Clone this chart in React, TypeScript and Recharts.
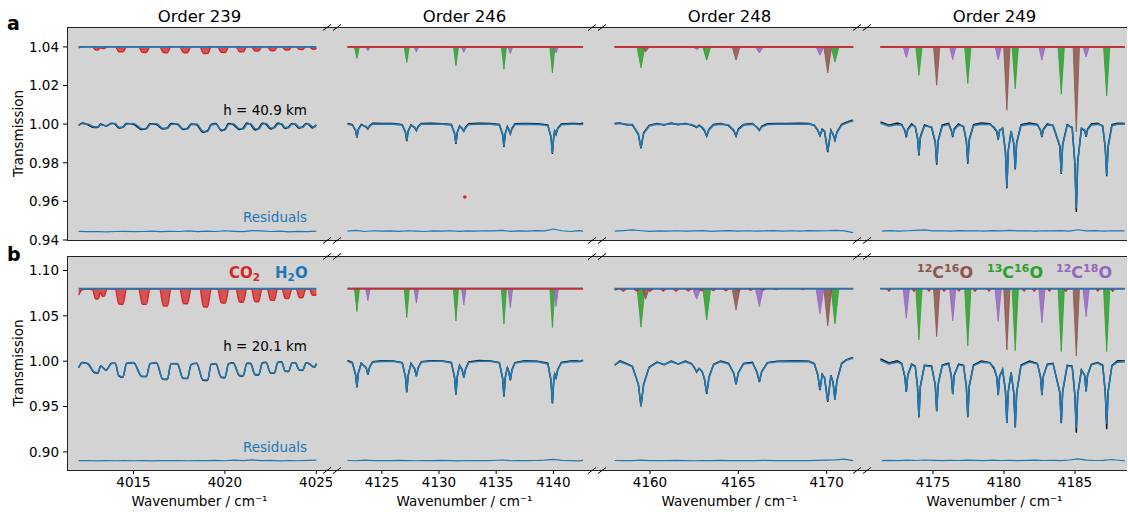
import React from 'react';
import { ComposedChart, Line, Area, XAxis, YAxis, ReferenceDot } from 'recharts';

const BLUE = '#1f77b4';
const RED = '#d62728';
const GREEN = '#2ca02c';
const PURPLE = '#9467bd';
const BROWN = '#8c564b';
const GRAY = '#d3d3d3';
const FONT = '"DejaVu Sans", sans-serif';

// ---------- axes ----------
const titles = ['Order 239', 'Order 246', 'Order 248', 'Order 249'];
const xDomains: [number, number][] = [[4011.36, 4025.86], [4120.64, 4143.82], [4157.0, 4172.0], [4170.0, 4188.66]];
const xTicks = [[4015, 4020, 4025], [4125, 4130, 4135, 4140], [4160, 4165, 4170], [4175, 4180, 4185]];
const aYTicks = [0.94, 0.96, 0.98, 1.0, 1.02, 1.04];
const bYTicks = [0.9, 0.95, 1.0, 1.05, 1.1];
const heights = { a: '40.9', b: '20.1' };

// ---------- Order 239 ----------
const p1Wn = [4012.0, 4012.2, 4012.5, 4012.85, 4013.05, 4013.2, 4013.5, 4013.8, 4014.0, 4014.2, 4014.42, 4014.62, 4015.0, 4015.45, 4015.7, 4015.9, 4016.25, 4016.6, 4016.85, 4017.05, 4017.4, 4017.7, 4017.95, 4018.15, 4018.45, 4018.8, 4019.05, 4019.25, 4019.5, 4019.8, 4020.0, 4020.2, 4020.45, 4020.8, 4021.0, 4021.2, 4021.4, 4021.65, 4021.85, 4022.05, 4022.25, 4022.5, 4022.7, 4022.9, 4023.1, 4023.3, 4023.48, 4023.68, 4023.85, 4024.07, 4024.25, 4024.45, 4024.6, 4024.8, 4024.92, 4025.0];
const a1Model = [0.9995, 1.0002, 1.0, 0.9986, 0.9985, 0.9997, 0.9992, 1.0002, 1.0003, 0.9984, 0.9983, 1.0, 1.0003, 0.9976, 0.9975, 0.9998, 1.0002, 0.9979, 0.9978, 0.9998, 1.0002, 0.9976, 0.9975, 0.9997, 1.0, 0.9963, 0.9962, 0.9995, 1.0, 0.9971, 0.997, 0.9998, 1.0002, 0.9976, 0.9975, 1.0, 1.0002, 0.9976, 0.9975, 1.0, 1.0003, 0.998, 0.998, 1.0, 1.0002, 0.9982, 0.9982, 1.0, 1.0002, 0.9983, 0.9983, 1.0, 1.0, 0.9986, 0.9986, 0.9995];
const a1Obs = [0.9993, 1.0006, 0.9996, 0.9982, 0.9984, 1.0001, 0.999, 1.0005, 0.9999, 0.998, 0.9985, 1.0004, 0.9999, 0.9972, 0.9978, 1.0002, 0.9998, 0.9975, 0.9981, 1.0003, 0.9999, 0.9972, 0.9978, 1.0001, 0.9996, 0.9958, 0.9966, 0.9999, 1.0004, 0.9966, 0.9974, 1.0003, 0.9997, 0.9972, 0.998, 1.0006, 0.9998, 0.997, 0.9979, 1.0005, 0.9999, 0.9975, 0.9984, 1.0006, 0.9998, 0.9977, 0.9986, 1.0004, 0.9997, 0.9978, 0.9987, 1.0004, 0.9996, 0.998, 0.999, 0.9997];
const b1Model = [0.9926, 0.9982, 0.9975, 0.988, 0.9872, 0.9945, 0.9905, 0.9975, 0.998, 0.984, 0.9826, 0.9975, 0.9985, 0.9835, 0.9832, 0.997, 0.9985, 0.9805, 0.9802, 0.997, 0.9975, 0.9815, 0.9812, 0.996, 0.998, 0.9795, 0.9792, 0.9965, 0.9975, 0.9825, 0.9822, 0.997, 0.998, 0.9845, 0.9842, 0.9975, 0.9972, 0.9855, 0.9852, 0.998, 0.9985, 0.9872, 0.987, 0.9985, 0.999, 0.9892, 0.989, 0.998, 0.9985, 0.9905, 0.9903, 0.998, 0.9975, 0.9945, 0.994, 0.997];
const b1Obs = [0.993, 0.9985, 0.997, 0.9875, 0.9868, 0.9948, 0.99, 0.9978, 0.9976, 0.9835, 0.9822, 0.9978, 0.9982, 0.983, 0.983, 0.9973, 0.9981, 0.98, 0.9798, 0.9973, 0.9971, 0.981, 0.9808, 0.9963, 0.9976, 0.979, 0.9786, 0.9968, 0.9971, 0.982, 0.9818, 0.9973, 0.9984, 0.984, 0.9836, 0.9979, 0.9978, 0.985, 0.9848, 0.9983, 0.9989, 0.9868, 0.9866, 0.9988, 0.9993, 0.9888, 0.9886, 0.9984, 0.9982, 0.9901, 0.9898, 0.9984, 0.9972, 0.9941, 0.9936, 0.9974];
const p1Co2Wn = [4012.0, 4012.2, 4012.45, 4012.75, 4012.92, 4013.06, 4013.2, 4013.3, 4013.4, 4013.55, 4014.0, 4014.2, 4014.42, 4014.62, 4015.28, 4015.48, 4015.7, 4015.9, 4016.43, 4016.63, 4016.85, 4017.05, 4017.53, 4017.73, 4017.95, 4018.15, 4018.63, 4018.83, 4019.05, 4019.25, 4019.6, 4019.8, 4020.02, 4020.22, 4020.6, 4020.8, 4021.0, 4021.2, 4021.45, 4021.64, 4021.84, 4022.03, 4022.32, 4022.5, 4022.7, 4022.88, 4023.12, 4023.3, 4023.48, 4023.66, 4023.9, 4024.07, 4024.25, 4024.42, 4024.62, 4024.78, 4024.94, 4025.0];
const a1Co2 = [1.0395, 1.04, 1.04, 1.04, 1.0385, 1.0384, 1.0395, 1.0392, 1.0392, 1.04, 1.04, 1.0375, 1.0374, 1.04, 1.04, 1.0372, 1.0371, 1.04, 1.04, 1.0371, 1.037, 1.04, 1.04, 1.0371, 1.037, 1.04, 1.04, 1.0366, 1.0365, 1.04, 1.04, 1.0372, 1.0371, 1.04, 1.04, 1.0375, 1.0374, 1.04, 1.04, 1.0379, 1.0378, 1.04, 1.04, 1.0381, 1.038, 1.04, 1.04, 1.0384, 1.0383, 1.04, 1.04, 1.0387, 1.0386, 1.04, 1.04, 1.0389, 1.0388, 1.0395];
const b1Co2 = [1.073, 1.079, 1.0795, 1.079, 1.0688, 1.0685, 1.076, 1.0715, 1.0718, 1.0795, 1.0795, 1.063, 1.0626, 1.0795, 1.0795, 1.0628, 1.0626, 1.0795, 1.0795, 1.061, 1.0607, 1.0795, 1.0795, 1.0636, 1.0633, 1.0795, 1.0795, 1.06, 1.0596, 1.0795, 1.0795, 1.0643, 1.064, 1.0795, 1.0795, 1.0653, 1.065, 1.0795, 1.0795, 1.0658, 1.0655, 1.0795, 1.0795, 1.0673, 1.067, 1.0795, 1.0795, 1.0693, 1.069, 1.0795, 1.0795, 1.0703, 1.07, 1.0795, 1.0795, 1.073, 1.0726, 1.074];
const p1ResWn = [4012.0, 4012.5, 4013.0, 4013.5, 4014.0, 4014.5, 4015.0, 4015.5, 4016.0, 4016.5, 4017.0, 4017.5, 4018.0, 4018.5, 4019.0, 4019.5, 4020.0, 4020.5, 4021.0, 4021.5, 4022.0, 4022.5, 4023.0, 4023.5, 4024.0, 4024.5, 4025.0];
const a1Res = [0.9445, 0.9443, 0.9444, 0.9442, 0.9444, 0.9445, 0.9443, 0.9444, 0.9446, 0.9443, 0.9445, 0.9444, 0.9447, 0.9443, 0.9446, 0.9444, 0.9448, 0.9445, 0.9443, 0.9449, 0.9447, 0.9444, 0.9446, 0.9442, 0.9445, 0.9443, 0.9446];
const b1Res = [0.8903, 0.8905, 0.8901, 0.8903, 0.8902, 0.8904, 0.8902, 0.8903, 0.8901, 0.8904, 0.8903, 0.8905, 0.8902, 0.8904, 0.8903, 0.8906, 0.8902, 0.8908, 0.8904, 0.8911, 0.8903, 0.8907, 0.8901, 0.8905, 0.8902, 0.8906, 0.8908];

// ---------- Order 246 ----------
const p2Wn = [4122.0, 4122.42, 4122.7, 4122.82, 4122.94, 4123.2, 4123.63, 4123.78, 4123.93, 4124.2, 4125.0, 4126.0, 4126.78, 4127.06, 4127.18, 4127.3, 4127.55, 4127.87, 4128.02, 4128.17, 4128.45, 4129.3, 4130.3, 4131.08, 4131.36, 4131.48, 4131.6, 4131.8, 4132.02, 4132.17, 4132.32, 4132.6, 4133.5, 4134.5, 4135.28, 4135.56, 4135.68, 4135.8, 4135.98, 4136.1, 4136.24, 4136.38, 4136.65, 4137.5, 4138.6, 4139.52, 4139.8, 4139.92, 4140.04, 4140.12, 4140.24, 4140.38, 4140.7, 4141.5, 4142.0, 4142.3, 4142.6];
const a2Model = [1.0, 0.9995, 0.997, 0.9934, 0.997, 0.9995, 0.9988, 0.9977, 0.9988, 1.0, 1.0, 1.0, 0.9995, 0.9962, 0.9917, 0.9962, 0.9993, 0.9985, 0.9969, 0.9985, 1.0, 1.0, 1.0, 0.9995, 0.9955, 0.9903, 0.9955, 0.9988, 0.998, 0.9966, 0.998, 0.9998, 1.0, 1.0, 0.9995, 0.995, 0.9887, 0.995, 0.9985, 0.9975, 0.9952, 0.9975, 0.9998, 1.0, 0.9998, 0.9993, 0.9935, 0.9851, 0.9935, 0.9965, 0.995, 0.9975, 0.9997, 1.0, 1.0, 0.9998, 1.0];
const a2Obs = [1.0004, 0.9998, 0.9966, 0.993, 0.9974, 0.9999, 0.9985, 0.9975, 0.9992, 1.0005, 1.0003, 1.0004, 0.9998, 0.9958, 0.9912, 0.9965, 0.9996, 0.9982, 0.9966, 0.9988, 1.0004, 1.0005, 1.0002, 0.9999, 0.9951, 0.9898, 0.9959, 0.9991, 0.9977, 0.9963, 0.9984, 1.0002, 1.0005, 1.0003, 0.9998, 0.9946, 0.9882, 0.9954, 0.9988, 0.9972, 0.9949, 0.9978, 1.0002, 1.0004, 1.0002, 0.9996, 0.993, 0.9845, 0.994, 0.9968, 0.9947, 0.9978, 1.0001, 1.0004, 1.0003, 1.0001, 1.0006];
const b2Model = [1.0, 0.998, 0.986, 0.972, 0.986, 0.9975, 0.993, 0.9856, 0.993, 0.999, 0.9998, 1.0, 0.998, 0.984, 0.9664, 0.984, 0.997, 0.992, 0.9837, 0.992, 0.999, 1.0, 1.0, 0.998, 0.983, 0.9639, 0.983, 0.995, 0.991, 0.9823, 0.991, 0.9985, 1.0, 1.0, 0.998, 0.982, 0.9617, 0.982, 0.993, 0.989, 0.9793, 0.99, 0.998, 0.9998, 0.9995, 0.997, 0.979, 0.9543, 0.979, 0.986, 0.9823, 0.99, 0.998, 0.9995, 0.9998, 0.9995, 1.0005];
const b2Obs = [1.0008, 0.9985, 0.985, 0.971, 0.987, 0.998, 0.9925, 0.9852, 0.9935, 0.9995, 1.0005, 1.0002, 0.9985, 0.983, 0.9655, 0.9845, 0.9978, 0.9915, 0.9832, 0.9925, 0.9995, 1.0006, 1.0003, 0.9988, 0.982, 0.963, 0.9835, 0.9955, 0.9905, 0.9818, 0.9915, 0.9992, 1.0007, 1.0004, 0.9985, 0.981, 0.9608, 0.9825, 0.9935, 0.9885, 0.9788, 0.9905, 0.9985, 1.0005, 1.0001, 0.9978, 0.978, 0.9535, 0.9795, 0.9865, 0.9818, 0.9905, 0.9988, 1.0002, 1.0004, 0.9998, 1.0012];
const p2GreenWn = [4122.0, 4122.6, 4122.82, 4123.04, 4126.96, 4127.18, 4127.4, 4131.26, 4131.48, 4131.7, 4135.46, 4135.68, 4135.9, 4139.7, 4139.92, 4140.14, 4142.6];
const a2Green = [1.04, 1.04, 1.034, 1.04, 1.04, 1.0319, 1.04, 1.04, 1.0302, 1.04, 1.04, 1.0284, 1.04, 1.04, 1.0265, 1.04, 1.04];
const b2Green = [1.08, 1.08, 1.0547, 1.08, 1.08, 1.0481, 1.08, 1.08, 1.0444, 1.08, 1.08, 1.0411, 1.08, 1.08, 1.0371, 1.08, 1.08];
const p2PurpleWn = [4122.0, 4123.58, 4123.78, 4123.98, 4127.82, 4128.02, 4128.22, 4131.97, 4132.17, 4132.37, 4136.04, 4136.24, 4136.44, 4140.04, 4140.24, 4140.44, 4142.6];
const a2Purple = [1.04, 1.04, 1.0379, 1.04, 1.04, 1.0374, 1.04, 1.04, 1.0371, 1.04, 1.04, 1.0365, 1.04, 1.04, 1.0369, 1.04, 1.04];
const b2Purple = [1.08, 1.08, 1.0669, 1.08, 1.08, 1.0639, 1.08, 1.08, 1.0621, 1.08, 1.08, 1.0592, 1.08, 1.08, 1.0603, 1.08, 1.08];
const p2ResWn = [4122.0, 4122.75, 4123.5, 4124.25, 4125.0, 4125.75, 4126.5, 4127.25, 4128.0, 4128.75, 4129.5, 4130.25, 4131.0, 4131.75, 4132.5, 4133.25, 4134.0, 4134.75, 4135.5, 4136.25, 4137.0, 4137.75, 4138.5, 4139.25, 4140.0, 4140.75, 4141.5, 4142.25, 4142.6];
const a2Res = [0.9446, 0.945, 0.9444, 0.9448, 0.9446, 0.9447, 0.9445, 0.9448, 0.9446, 0.9444, 0.9447, 0.9446, 0.9448, 0.9445, 0.9447, 0.9446, 0.9448, 0.9447, 0.945, 0.9445, 0.9447, 0.9446, 0.9449, 0.9447, 0.9457, 0.9448, 0.9444, 0.9449, 0.9446];
const b2Res = [0.8905, 0.8902, 0.8908, 0.8903, 0.8905, 0.8903, 0.8906, 0.8904, 0.8902, 0.8905, 0.8903, 0.8906, 0.8903, 0.89, 0.8905, 0.8904, 0.8903, 0.8905, 0.891, 0.8902, 0.8904, 0.8903, 0.8905, 0.8908, 0.8918, 0.8906, 0.8903, 0.89, 0.8906];
const redDot = { wn: 4132.26, t: 0.9623 };

// ---------- Order 248 ----------
const p3Wn = [4158.0, 4158.3, 4158.65, 4159.0, 4159.34, 4159.49, 4159.64, 4159.95, 4160.4, 4160.8, 4161.2, 4161.6, 4162.0, 4162.35, 4162.52, 4162.64, 4162.78, 4162.95, 4163.08, 4163.21, 4163.34, 4163.6, 4164.0, 4164.45, 4164.74, 4164.87, 4165.0, 4165.3, 4165.8, 4166.06, 4166.19, 4166.32, 4166.65, 4167.2, 4167.8, 4168.4, 4169.0, 4169.3, 4169.5, 4169.62, 4169.75, 4169.88, 4170.06, 4170.24, 4170.36, 4170.47, 4170.58, 4170.85, 4171.1, 4171.4, 4171.5];
const a3Model = [1.0, 1.0003, 1.0, 0.9995, 0.995, 0.9879, 0.995, 0.999, 1.0, 0.9998, 1.0002, 1.0, 1.0, 0.9998, 0.9992, 0.9985, 0.999, 0.9985, 0.997, 0.994, 0.997, 0.9995, 1.0, 0.9995, 0.997, 0.994, 0.997, 0.9995, 1.0, 0.9985, 0.997, 0.9985, 0.9998, 1.0, 1.0, 1.0, 1.0, 0.9995, 0.997, 0.9943, 0.997, 0.9965, 0.986, 0.9965, 0.995, 0.992, 0.9955, 0.9995, 1.0005, 1.0015, 1.0017];
const a3Obs = [1.0004, 1.0006, 0.9996, 0.9998, 0.9946, 0.9874, 0.9955, 0.9994, 1.0004, 0.9995, 1.0006, 0.9997, 1.0004, 0.9995, 0.9989, 0.9982, 0.9994, 0.9981, 0.9966, 0.9937, 0.9974, 0.9999, 1.0004, 0.9992, 0.9966, 0.9937, 0.9975, 0.9999, 1.0004, 0.9982, 0.9967, 0.9989, 1.0002, 1.0004, 1.0003, 1.0005, 1.0003, 0.9992, 0.9966, 0.994, 0.9974, 0.9961, 0.9855, 0.9969, 0.9946, 0.9917, 0.9959, 0.9999, 1.0009, 1.0019, 1.0021];
const b3Model = [0.996, 0.9995, 0.997, 0.994, 0.975, 0.9506, 0.974, 0.993, 0.9985, 0.9965, 0.9995, 0.997, 0.9995, 0.997, 0.993, 0.9885, 0.9915, 0.989, 0.981, 0.9646, 0.982, 0.996, 0.9995, 0.997, 0.987, 0.9749, 0.987, 0.997, 0.998, 0.988, 0.9775, 0.988, 0.998, 0.9993, 0.9995, 0.9998, 0.9995, 0.997, 0.985, 0.969, 0.985, 0.982, 0.9561, 0.984, 0.977, 0.958, 0.978, 0.997, 1.001, 1.003, 1.003];
const b3Obs = [0.9955, 1.0003, 0.9975, 0.9945, 0.9745, 0.95, 0.9748, 0.9935, 0.9992, 0.9962, 1.0002, 0.9968, 1.0001, 0.9975, 0.9925, 0.988, 0.992, 0.9885, 0.9805, 0.964, 0.9825, 0.9965, 1.0003, 0.9975, 0.9865, 0.9745, 0.9875, 0.9975, 0.9988, 0.9875, 0.977, 0.9885, 0.9985, 1.0001, 1.0003, 1.0005, 1.0001, 0.9975, 0.9845, 0.968, 0.9855, 0.9815, 0.955, 0.9845, 0.9765, 0.9575, 0.9785, 0.9978, 1.0015, 1.0035, 1.0038];
const p3GreenWn = [4158.0, 4159.27, 4159.49, 4159.71, 4162.99, 4163.21, 4163.43, 4170.25, 4170.47, 4170.69, 4171.5];
const a3Green = [1.04, 1.04, 1.0291, 1.04, 1.04, 1.0331, 1.04, 1.04, 1.0322, 1.04, 1.04];
const b3Green = [1.08, 1.08, 1.0375, 1.08, 1.08, 1.0455, 1.08, 1.08, 1.0411, 1.08, 1.08];
const p3BrownWn = [4158.0, 4159.55, 4159.75, 4159.95, 4164.65, 4164.87, 4165.09, 4169.84, 4170.06, 4170.28, 4171.5];
const a3Brown = [1.04, 1.04, 1.0374, 1.04, 1.04, 1.0331, 1.04, 1.04, 1.0265, 1.04, 1.04];
const b3Brown = [1.08, 1.08, 1.0684, 1.08, 1.08, 1.0566, 1.08, 1.08, 1.0389, 1.08, 1.08];
const p3PurpleWn = [4158.0, 4162.42, 4162.64, 4162.86, 4165.97, 4166.19, 4166.41, 4169.4, 4169.62, 4169.84, 4171.5];
const a3Purple = [1.04, 1.04, 1.0386, 1.04, 1.04, 1.0369, 1.04, 1.04, 1.0357, 1.04, 1.04];
const b3Purple = [1.08, 1.08, 1.0684, 1.08, 1.08, 1.0603, 1.08, 1.08, 1.0522, 1.08, 1.08];
const p3Co2Wn = [4158.0, 4158.31, 4158.49, 4158.67, 4159.07, 4159.25, 4159.43, 4159.82, 4160.0, 4160.18, 4160.57, 4160.75, 4160.93, 4161.29, 4161.47, 4161.65, 4161.99, 4162.17, 4162.35, 4162.74, 4162.92, 4163.1, 4163.4, 4163.58, 4163.76, 4164.12, 4164.3, 4164.48, 4164.82, 4165.0, 4165.18, 4165.52, 4165.7, 4165.88, 4166.23, 4166.41, 4166.59, 4167.0, 4167.15, 4167.3, 4168.5, 4168.66, 4168.82, 4171.5];
const b3Co2 = [1.0785, 1.08, 1.0772, 1.08, 1.08, 1.0775, 1.08, 1.08, 1.0772, 1.08, 1.08, 1.0775, 1.08, 1.08, 1.0772, 1.08, 1.08, 1.0775, 1.08, 1.08, 1.0778, 1.08, 1.08, 1.078, 1.08, 1.08, 1.0778, 1.08, 1.08, 1.078, 1.08, 1.08, 1.0783, 1.08, 1.08, 1.0785, 1.08, 1.08, 1.079, 1.08, 1.08, 1.079, 1.08, 1.08];
const p3ResWn = [4158.0, 4158.5, 4159.0, 4159.5, 4160.0, 4160.5, 4161.0, 4161.5, 4162.0, 4162.5, 4163.0, 4163.5, 4164.0, 4164.5, 4165.0, 4165.5, 4166.0, 4166.5, 4167.0, 4167.5, 4168.0, 4168.5, 4169.0, 4169.5, 4170.0, 4170.5, 4171.0, 4171.5];
const a3Res = [0.9446, 0.9449, 0.9452, 0.9448, 0.9445, 0.9447, 0.9446, 0.9448, 0.9446, 0.9447, 0.9449, 0.9445, 0.9447, 0.9449, 0.9446, 0.9448, 0.9446, 0.9447, 0.9449, 0.9446, 0.9448, 0.9446, 0.9449, 0.9447, 0.9448, 0.945, 0.9447, 0.9438];
const b3Res = [0.8905, 0.8904, 0.8903, 0.8908, 0.8903, 0.8905, 0.8903, 0.8906, 0.8904, 0.8902, 0.8905, 0.8903, 0.8906, 0.8904, 0.8903, 0.8905, 0.8903, 0.8906, 0.8904, 0.8903, 0.8905, 0.8903, 0.8904, 0.8906, 0.8908, 0.8912, 0.892, 0.8903];

// ---------- Order 249 ----------
const p4Wn = [4171.3, 4171.9, 4172.5, 4172.8, 4173.02, 4173.12, 4173.22, 4173.5, 4173.75, 4173.91, 4174.01, 4174.11, 4174.4, 4174.9, 4175.16, 4175.26, 4175.36, 4175.65, 4176.1, 4176.29, 4176.39, 4176.49, 4176.8, 4177.15, 4177.35, 4177.45, 4177.55, 4177.85, 4178.4, 4179.0, 4179.3, 4179.49, 4179.59, 4179.69, 4179.9, 4180.1, 4180.2, 4180.3, 4180.5, 4180.69, 4180.79, 4180.89, 4181.2, 4181.8, 4182.35, 4182.57, 4182.67, 4182.77, 4183.05, 4183.45, 4183.93, 4184.03, 4184.13, 4184.45, 4184.8, 4184.99, 4185.09, 4185.19, 4185.45, 4185.68, 4185.78, 4185.88, 4186.15, 4186.6, 4186.95, 4187.13, 4187.23, 4187.33, 4187.6, 4188.0, 4188.5];
const a4Model = [1.0005, 0.999, 0.9998, 0.9995, 0.997, 0.9937, 0.997, 0.9995, 0.9988, 0.993, 0.9844, 0.993, 0.999, 0.9985, 0.991, 0.9796, 0.991, 0.999, 0.9998, 0.997, 0.9937, 0.997, 0.9995, 0.999, 0.9915, 0.9801, 0.9915, 0.9992, 1.0, 0.9998, 0.9985, 0.9965, 0.9925, 0.9965, 0.998, 0.986, 0.9675, 0.986, 0.9965, 0.99, 0.977, 0.99, 0.9992, 1.0, 0.9995, 0.997, 0.9937, 0.997, 0.9995, 0.9995, 0.989, 0.9747, 0.989, 0.9992, 0.9985, 0.98, 0.9563, 0.98, 0.998, 0.997, 0.9937, 0.997, 0.9995, 1.0, 0.9992, 0.988, 0.9735, 0.988, 0.9992, 1.0, 1.0];
const a4Obs = [1.0012, 0.9995, 1.0006, 0.9998, 0.9965, 0.9932, 0.9975, 1.0002, 0.9985, 0.9925, 0.9838, 0.9935, 0.9996, 0.9982, 0.9905, 0.979, 0.9915, 0.9996, 1.0004, 0.9966, 0.9933, 0.9976, 1.0001, 0.9986, 0.991, 0.9795, 0.992, 0.9998, 1.0006, 1.0002, 0.998, 0.9961, 0.992, 0.997, 0.9976, 0.9855, 0.9668, 0.9866, 0.9961, 0.9895, 0.9765, 0.9905, 0.9998, 1.0006, 0.9999, 0.9966, 0.9933, 0.9975, 1.0001, 0.9991, 0.9885, 0.9742, 0.9895, 0.9998, 0.9981, 0.9795, 0.9545, 0.9806, 0.9976, 0.9966, 0.9934, 0.9975, 1.0001, 1.0005, 0.9988, 0.9875, 0.973, 0.9885, 0.9998, 1.0005, 1.0004];
const b4Model = [1.001, 0.997, 0.999, 0.997, 0.983, 0.9664, 0.984, 0.996, 0.994, 0.972, 0.9389, 0.972, 0.995, 0.994, 0.974, 0.9455, 0.974, 0.995, 0.997, 0.984, 0.9639, 0.984, 0.996, 0.995, 0.972, 0.9389, 0.972, 0.995, 0.999, 0.998, 0.993, 0.983, 0.9628, 0.983, 0.991, 0.968, 0.9322, 0.966, 0.988, 0.965, 0.9278, 0.965, 0.995, 0.999, 0.997, 0.983, 0.9628, 0.983, 0.996, 0.997, 0.966, 0.9322, 0.966, 0.995, 0.994, 0.963, 0.926, 0.963, 0.99, 0.984, 0.9664, 0.984, 0.996, 0.998, 0.995, 0.966, 0.9308, 0.966, 0.995, 0.999, 0.9995];
const b4Obs = [1.0025, 0.998, 1.0005, 0.9975, 0.9825, 0.966, 0.9845, 0.9968, 0.9945, 0.9715, 0.938, 0.9725, 0.9955, 0.9948, 0.9735, 0.9448, 0.9745, 0.9958, 0.9978, 0.9835, 0.9635, 0.9845, 0.9968, 0.9955, 0.9715, 0.9382, 0.9725, 0.9958, 1.0003, 0.9985, 0.9915, 0.9825, 0.9625, 0.9835, 0.9905, 0.9675, 0.9318, 0.9665, 0.9875, 0.9645, 0.927, 0.9655, 0.9958, 1.0002, 0.9975, 0.9825, 0.9625, 0.9835, 0.9968, 0.9978, 0.9655, 0.9315, 0.9665, 0.9955, 0.9945, 0.9625, 0.921, 0.9635, 0.9905, 0.9845, 0.967, 0.9845, 0.9965, 0.9985, 0.9955, 0.9655, 0.925, 0.9665, 0.9955, 1.0005, 1.0002];
const p4PurpleWn = [4171.3, 4172.9, 4173.12, 4173.34, 4176.17, 4176.39, 4176.61, 4179.37, 4179.59, 4179.81, 4182.45, 4182.67, 4182.89, 4185.56, 4185.78, 4186.0, 4188.5];
const a4Purple = [1.04, 1.04, 1.0345, 1.04, 1.04, 1.0334, 1.04, 1.04, 1.0334, 1.04, 1.04, 1.0331, 1.04, 1.04, 1.0348, 1.04, 1.04];
const b4Purple = [1.08, 1.08, 1.0474, 1.08, 1.08, 1.0444, 1.08, 1.08, 1.0437, 1.08, 1.08, 1.0426, 1.08, 1.08, 1.0492, 1.08, 1.08];
const p4GreenWn = [4171.3, 4173.79, 4174.01, 4174.23, 4177.23, 4177.45, 4177.67, 4180.57, 4180.79, 4181.01, 4183.81, 4184.03, 4184.25, 4187.01, 4187.23, 4187.45, 4188.5];
const a4Green = [1.04, 1.04, 1.0253, 1.04, 1.04, 1.021, 1.04, 1.04, 1.0184, 1.04, 1.04, 1.0155, 1.04, 1.04, 1.0146, 1.04, 1.04];
const b4Green = [1.08, 1.08, 1.0235, 1.08, 1.08, 1.0169, 1.08, 1.08, 1.0117, 1.08, 1.08, 1.0106, 1.08, 1.08, 1.0106, 1.08, 1.08];
const p4BrownWn = [4171.3, 4175.04, 4175.26, 4175.48, 4179.98, 4180.2, 4180.42, 4184.87, 4185.09, 4185.31, 4188.5];
const a4Brown = [1.04, 1.04, 1.0201, 1.04, 1.04, 1.0072, 1.04, 1.04, 0.996, 1.04, 1.04];
const b4Brown = [1.08, 1.08, 1.0272, 1.08, 1.08, 1.0124, 1.08, 1.08, 1.0058, 1.08, 1.08];
const p4Co2Wn = [4171.3, 4171.75, 4171.9, 4172.05, 4173.51, 4173.66, 4173.81, 4174.57, 4174.72, 4174.87, 4175.63, 4175.78, 4175.93, 4176.68, 4176.83, 4176.98, 4177.81, 4177.96, 4178.11, 4178.8, 4178.95, 4179.1, 4181.27, 4181.42, 4181.57, 4181.98, 4182.13, 4182.28, 4183.04, 4183.19, 4183.34, 4184.21, 4184.36, 4184.51, 4186.45, 4186.6, 4186.75, 4187.5, 4187.65, 4187.8, 4188.5];
const b4Co2 = [1.08, 1.08, 1.0775, 1.08, 1.08, 1.0772, 1.08, 1.08, 1.0775, 1.08, 1.08, 1.0772, 1.08, 1.08, 1.0775, 1.08, 1.08, 1.0772, 1.08, 1.08, 1.0775, 1.08, 1.08, 1.0775, 1.08, 1.08, 1.0772, 1.08, 1.08, 1.0775, 1.08, 1.08, 1.0772, 1.08, 1.08, 1.0775, 1.08, 1.08, 1.0772, 1.08, 1.08];
const p4ResWn = [4171.4, 4172.0, 4172.6, 4173.2, 4173.8, 4174.4, 4175.0, 4175.6, 4176.2, 4176.8, 4177.4, 4178.0, 4178.6, 4179.2, 4179.8, 4180.4, 4181.0, 4181.6, 4182.2, 4182.8, 4183.4, 4184.0, 4184.6, 4185.2, 4185.8, 4186.4, 4187.0, 4187.6, 4188.2, 4188.5];
const a4Res = [0.9446, 0.9449, 0.9446, 0.9448, 0.945, 0.9452, 0.9447, 0.9448, 0.9446, 0.9449, 0.9447, 0.9448, 0.9446, 0.9449, 0.9447, 0.945, 0.9447, 0.9448, 0.9446, 0.9448, 0.9447, 0.9449, 0.9446, 0.9453, 0.9447, 0.9449, 0.9446, 0.9448, 0.9447, 0.9448];
const b4Res = [0.8903, 0.8906, 0.8904, 0.8908, 0.8905, 0.891, 0.8906, 0.8904, 0.8907, 0.8905, 0.8908, 0.8906, 0.8904, 0.8908, 0.8905, 0.8907, 0.8904, 0.8906, 0.8909, 0.8905, 0.8907, 0.8904, 0.891, 0.8922, 0.8908, 0.8905, 0.8907, 0.8916, 0.8905, 0.8904];

// flat reference levels of the offset model traces
const flatA = [1.04, 1.04];
const flatB = [1.08, 1.08];
const panelEnds = [[4012.0, 4025.0], [4122.0, 4142.6], [4158.0, 4171.5], [4171.3, 4188.5]];

// ---------- assembly ----------
type Pt = { x: number; y: number };
const zip = (xs: number[], ys: number[]): Pt[] => xs.map((x, i) => ({ x, y: ys[i] }));
type Row = 'a' | 'b';
type Species = { wn: number[]; a: number[]; b: number[]; color: string };
type PanelData = {
  wn: number[]; model: Record<Row, number[]>; obs: Record<Row, number[]>;
  resWn: number[]; res: Record<Row, number[]>;
  species: Species[];
  co2: Record<Row, { wn: number[]; v: number[] }>;
  curve: 'linear' | 'monotone';
};

const panels: PanelData[] = [
  {
    wn: p1Wn, model: { a: a1Model, b: b1Model }, obs: { a: a1Obs, b: b1Obs },
    resWn: p1ResWn, res: { a: a1Res, b: b1Res }, species: [],
    co2: { a: { wn: p1Co2Wn, v: a1Co2 }, b: { wn: p1Co2Wn, v: b1Co2 } }, curve: 'monotone',
  },
  {
    wn: p2Wn, model: { a: a2Model, b: b2Model }, obs: { a: a2Obs, b: b2Obs },
    resWn: p2ResWn, res: { a: a2Res, b: b2Res },
    species: [
      { wn: p2GreenWn, a: a2Green, b: b2Green, color: GREEN },
      { wn: p2PurpleWn, a: a2Purple, b: b2Purple, color: PURPLE },
    ],
    co2: { a: { wn: panelEnds[1], v: flatA }, b: { wn: panelEnds[1], v: flatB } }, curve: 'linear',
  },
  {
    wn: p3Wn, model: { a: a3Model, b: b3Model }, obs: { a: a3Obs, b: b3Obs },
    resWn: p3ResWn, res: { a: a3Res, b: b3Res },
    species: [
      { wn: p3GreenWn, a: a3Green, b: b3Green, color: GREEN },
      { wn: p3BrownWn, a: a3Brown, b: b3Brown, color: BROWN },
      { wn: p3PurpleWn, a: a3Purple, b: b3Purple, color: PURPLE },
    ],
    co2: { a: { wn: panelEnds[2], v: flatA }, b: { wn: p3Co2Wn, v: b3Co2 } }, curve: 'linear',
  },
  {
    wn: p4Wn, model: { a: a4Model, b: b4Model }, obs: { a: a4Obs, b: b4Obs },
    resWn: p4ResWn, res: { a: a4Res, b: b4Res },
    species: [
      { wn: p4PurpleWn, a: a4Purple, b: b4Purple, color: PURPLE },
      { wn: p4GreenWn, a: a4Green, b: b4Green, color: GREEN },
      { wn: p4BrownWn, a: a4Brown, b: b4Brown, color: BROWN },
    ],
    co2: { a: { wn: panelEnds[3], v: flatA }, b: { wn: p4Co2Wn, v: b4Co2 } }, curve: 'linear',
  },
];

const PX = [67, 332, 597, 862];
const PW = 265;
const ROWS = {
  a: { top: 0, height: 250, margin: { top: 27, right: 0, bottom: 10, left: 0 }, yDomain: [0.94, 1.0503] as [number, number], yTicks: aYTicks, base: 1.04, plotTop: 27, plotBottom: 240 },
  b: { top: 240, height: 272, margin: { top: 16, right: 0, bottom: 0, left: 0 }, yDomain: [0.88, 1.116] as [number, number], yTicks: bYTicks, base: 1.08, plotTop: 256, plotBottom: 470 },
};

const tickStyle = { fontSize: 13.5, fill: '#000', fontFamily: FONT };

function Panel({ row, idx }: { row: Row; idx: number }) {
  const cfg = ROWS[row];
  const p = panels[idx];
  const left = idx === 0 ? 0 : PX[idx];
  const width = idx === 0 ? PX[0] + PW : PW;
  const base = cfg.base;
  const flat = row === 'a' ? flatA : flatB;
  const hasCo2Fill = p.co2[row].wn.length > 2;
  return (
    <div style={{ position: 'absolute', left, top: cfg.top }}>
      <ComposedChart width={width} height={cfg.height} margin={cfg.margin} style={{ overflow: 'visible' }}>
        <XAxis
          type="number" dataKey="x" domain={xDomains[idx]} allowDataOverflow ticks={xTicks[idx]} interval={0}
          hide={row === 'a'} height={42} tickSize={4} tickMargin={3} axisLine={false}
          tickLine={{ stroke: '#000' }} tick={tickStyle}
        />
        <YAxis
          type="number" domain={cfg.yDomain} allowDataOverflow ticks={cfg.yTicks} interval={0}
          hide={idx !== 0} width={67} tickSize={4} tickMargin={4} axisLine={false}
          tickLine={{ stroke: '#000' }} tick={tickStyle} tickFormatter={(v: number) => v.toFixed(2)}
        />
        {p.species.map((s, i) => (
          <Area
            key={'sp' + i} data={zip(s.wn, s[row])} dataKey="y" type="linear" baseValue={base}
            stroke={s.color} strokeWidth={0.8} fill={s.color} fillOpacity={0.85}
            isAnimationActive={false} dot={false} activeDot={false}
          />
        ))}
        <Line
          data={zip(panelEnds[idx], flat)} dataKey="y" type="linear" stroke={BLUE} strokeWidth={1.6}
          dot={false} activeDot={false} isAnimationActive={false}
        />
        {hasCo2Fill ? (
          <Area
            data={zip(p.co2[row].wn, p.co2[row].v)} dataKey="y" type={idx === 0 ? 'monotone' : 'linear'} baseValue={base}
            stroke={RED} strokeWidth={1.4} fill={RED} fillOpacity={0.75}
            isAnimationActive={false} dot={false} activeDot={false}
          />
        ) : (
          <Line
            data={zip(p.co2[row].wn, p.co2[row].v)} dataKey="y" type="linear" stroke={RED} strokeWidth={1.6}
            dot={false} activeDot={false} isAnimationActive={false}
          />
        )}
        <Line
          data={zip(p.wn, p.obs[row])} dataKey="y" type={p.curve} stroke="#111" strokeWidth={1.4}
          dot={false} activeDot={false} isAnimationActive={false}
        />
        <Line
          data={zip(p.wn, p.model[row])} dataKey="y" type={p.curve} stroke={BLUE} strokeWidth={1.6}
          dot={false} activeDot={false} isAnimationActive={false}
        />
        <Line
          data={zip(p.resWn, p.res[row])} dataKey="y" type="linear" stroke={BLUE} strokeWidth={1.2}
          dot={false} activeDot={false} isAnimationActive={false}
        />
        {row === 'a' && idx === 1 && (
          <ReferenceDot x={redDot.wn} y={redDot.t} r={1.8} fill={RED} stroke="none" />
        )}
      </ComposedChart>
    </div>
  );
}

function BreakMark({ x, y }: { x: number; y: number }) {
  return (
    <g stroke="#000" strokeWidth={1}>
      <line x1={x - 9} y1={y + 3} x2={x - 1} y2={y - 3} />
      <line x1={x + 1} y1={y + 3} x2={x + 9} y2={y - 3} />
    </g>
  );
}

function IsoLabel({ x, a, b, color }: { x: number; a: string; b: string; color: string }) {
  return (
    <text x={x} y={278} fontSize={16} fontWeight="bold" fill={color}>
      <tspan fontSize={11} dy={-6}>{a}</tspan>
      <tspan dy={6}>C</tspan>
      <tspan fontSize={11} dy={-6}>{b}</tspan>
      <tspan dy={6}>O</tspan>
    </text>
  );
}

export default function App() {
  const rowKeys: Row[] = ['a', 'b'];
  return (
    <div style={{ position: 'absolute', left: 0, top: 0, width: 1128, height: 512, background: '#fff', fontFamily: FONT, overflow: 'hidden' }}>
      {rowKeys.map((r) => (
        <div key={'bg' + r} style={{ position: 'absolute', left: PX[0], top: ROWS[r].plotTop, width: 1127 - PX[0], height: ROWS[r].plotBottom - ROWS[r].plotTop, background: GRAY }} />
      ))}
      {rowKeys.map((r) => [0, 1, 2, 3].map((i) => <Panel key={r + i} row={r} idx={i} />))}
      <svg width={1128} height={512} style={{ position: 'absolute', left: 0, top: 0, pointerEvents: 'none' }} fontFamily={FONT}>
        {rowKeys.map((r) => (
          <g key={'fr' + r} stroke="#222" strokeWidth={1} fill="none">
            <line x1={PX[0]} y1={ROWS[r].plotTop + 0.5} x2={1127} y2={ROWS[r].plotTop + 0.5} />
            <line x1={PX[0]} y1={ROWS[r].plotBottom + 0.5} x2={1127} y2={ROWS[r].plotBottom + 0.5} />
            <line x1={PX[0] + 0.5} y1={ROWS[r].plotTop} x2={PX[0] + 0.5} y2={ROWS[r].plotBottom + 1} />
          </g>
        ))}
        {rowKeys.map((r) => [1, 2, 3].map((i) => (
          <g key={'bk' + r + i}>
            <BreakMark x={PX[i]} y={ROWS[r].plotTop + 0.5} />
            <BreakMark x={PX[i]} y={ROWS[r].plotBottom + 0.5} />
          </g>
        )))}
        {titles.map((t, i) => (
          <text key={t} x={PX[i] + PW / 2} y={21.5} textAnchor="middle" fontSize={16.5} fill="#000">{t}</text>
        ))}
        <text x={7} y={30} fontSize={19} fontWeight="bold" fill="#000">a</text>
        <text x={7} y={261} fontSize={19} fontWeight="bold" fill="#000">b</text>
        <text x={17.5} y={133.5} fontSize={13.5} textAnchor="middle" dominantBaseline="central" transform="rotate(-90 17.5 133.5)" fill="#000">Transmission</text>
        <text x={17.5} y={363} fontSize={13.5} textAnchor="middle" dominantBaseline="central" transform="rotate(-90 17.5 363)" fill="#000">Transmission</text>
        {[0, 1, 2, 3].map((i) => (
          <text key={'xl' + i} x={PX[i] + PW / 2} y={506} textAnchor="middle" fontSize={13.5} fill="#000">Wavenumber / cm⁻¹</text>
        ))}
        <text x={307} y={115} textAnchor="end" fontSize={13.5} fill="#000">{`h = ${heights.a} km`}</text>
        <text x={307} y={351} textAnchor="end" fontSize={13.5} fill="#000">{`h = ${heights.b} km`}</text>
        <text x={307} y={222} textAnchor="end" fontSize={13.5} fill={BLUE}>Residuals</text>
        <text x={307} y={452} textAnchor="end" fontSize={13.5} fill={BLUE}>Residuals</text>
        <text x={229} y={278} fontSize={15} fontWeight="bold" fill={RED}>
          <tspan>CO</tspan><tspan fontSize={10.5} dy={3}>2</tspan>
        </text>
        <text x={275} y={278} fontSize={15} fontWeight="bold" fill={BLUE}>
          <tspan>H</tspan><tspan fontSize={10.5} dy={3}>2</tspan><tspan dy={-3}>O</tspan>
        </text>
        <IsoLabel x={917} a="12" b="16" color={BROWN} />
        <IsoLabel x={987} a="13" b="16" color={GREEN} />
        <IsoLabel x={1056} a="12" b="18" color={PURPLE} />
      </svg>
    </div>
  );
}
